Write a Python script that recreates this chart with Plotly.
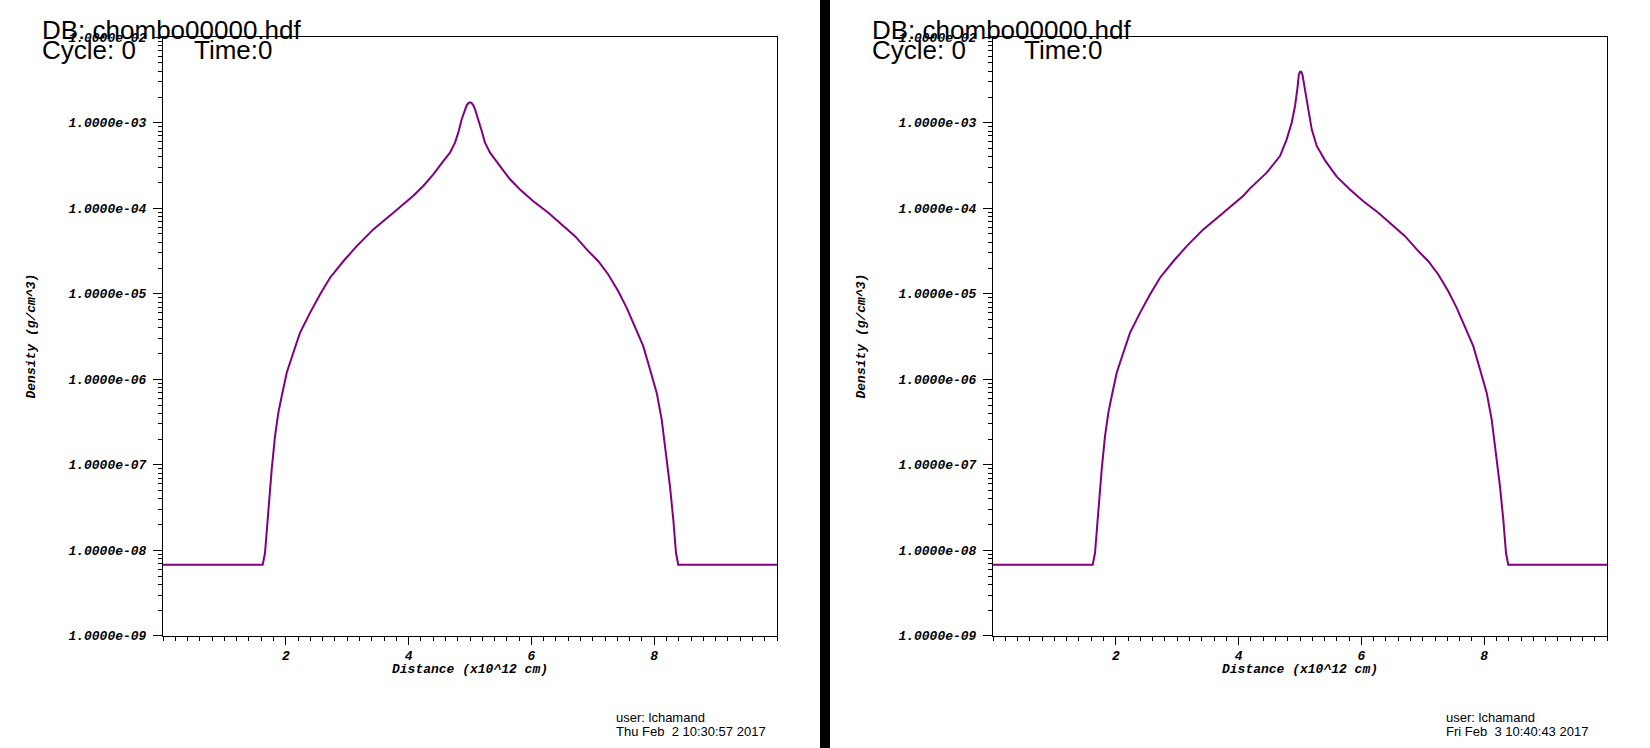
import plotly.graph_objects as go

# ---------------- data ----------------
distance_left = [0.0, 1.624, 1.661, 1.689, 1.731, 1.770, 1.824, 1.878, 1.933, 2.015,
                 2.122, 2.231, 2.394, 2.557, 2.720, 2.937, 3.155, 3.425, 3.751, 4.077,
                 4.239, 4.402, 4.565, 4.674, 4.756, 4.809, 4.865, 4.919, 4.946, 4.973,
                 5.000, 5.027, 5.054, 5.081, 5.135, 5.191, 5.244, 5.326, 5.489, 5.651,
                 5.814, 6.031, 6.275, 6.493, 6.710, 6.901, 7.090, 7.252, 7.415, 7.552,
                 7.687, 7.822, 7.932, 8.041, 8.122, 8.192, 8.257, 8.311, 8.355, 8.392, 10.0]
density_left = [6.78e-9, 6.78e-9, 9.29e-9, 1.74e-8, 4.28e-8, 8.77e-8, 2.15e-7, 4.05e-7, 6.32e-7, 1.19e-6,
                2.04e-6, 3.49e-6, 5.98e-6, 9.82e-6, 1.54e-5, 2.40e-5, 3.61e-5, 5.66e-5, 8.87e-5, 1.40e-4,
                1.82e-4, 2.49e-4, 3.56e-4, 4.47e-4, 5.85e-4, 7.66e-4, 1.10e-3, 1.44e-3, 1.60e-3, 1.70e-3,
                1.73e-3, 1.70e-3, 1.60e-3, 1.44e-3, 1.10e-3, 8.00e-4, 5.85e-4, 4.47e-4, 3.11e-4, 2.18e-4,
                1.66e-4, 1.21e-4, 8.87e-5, 6.47e-5, 4.72e-5, 3.30e-5, 2.40e-5, 1.68e-5, 1.07e-5, 6.85e-6,
                4.18e-6, 2.44e-6, 1.30e-6, 6.93e-7, 3.37e-7, 1.38e-7, 5.60e-8, 2.28e-8, 9.29e-9, 6.78e-9, 6.78e-9]

distance_right = [0.0, 1.624, 1.661, 1.689, 1.731, 1.770, 1.824, 1.878, 1.933, 2.015,
                  2.122, 2.231, 2.394, 2.557, 2.720, 2.937, 3.155, 3.425, 3.751, 4.077,
                  4.186, 4.458, 4.674, 4.783, 4.865, 4.919, 4.963, 4.980, 5.000, 5.020,
                  5.040, 5.081, 5.135, 5.191, 5.272, 5.407, 5.598, 5.814, 6.031,
                  6.275, 6.493, 6.710, 6.901, 7.090, 7.252, 7.415, 7.552, 7.687, 7.822,
                  7.932, 8.041, 8.122, 8.192, 8.257, 8.311, 8.355, 8.392, 10.0]
density_right = [6.78e-9, 6.78e-9, 9.29e-9, 1.74e-8, 4.28e-8, 8.77e-8, 2.15e-7, 4.05e-7, 6.32e-7, 1.19e-6,
                 2.04e-6, 3.49e-6, 5.98e-6, 9.82e-6, 1.54e-5, 2.40e-5, 3.61e-5, 5.66e-5, 8.87e-5, 1.40e-4,
                 1.71e-4, 2.61e-4, 4.08e-4, 6.40e-4, 1.00e-3, 1.57e-3, 2.69e-3, 3.63e-3, 3.94e-3, 3.94e-3,
                 3.63e-3, 2.46e-3, 1.32e-3, 8.37e-4, 5.35e-4, 3.63e-4, 2.34e-4, 1.66e-4, 1.21e-4,
                 8.87e-5, 6.47e-5, 4.72e-5, 3.30e-5, 2.40e-5, 1.68e-5, 1.07e-5, 6.85e-6, 4.18e-6, 2.44e-6,
                 1.30e-6, 6.93e-7, 3.37e-7, 1.38e-7, 5.60e-8, 2.28e-8, 9.29e-9, 6.78e-9, 6.78e-9]

x_tick_vals = [2, 4, 6, 8]
x_tick_text = ["2", "4", "6", "8"]
y_tick_vals = [1e-9, 1e-8, 1e-7, 1e-6, 1e-5, 1e-4, 1e-3, 1e-2]
y_tick_text = ["1.0000e-09", "1.0000e-08", "1.0000e-07", "1.0000e-06",
               "1.0000e-05", "1.0000e-04", "1.0000e-03", "1.0000e-02"]

db_name = "DB: chombo00000.hdf"
cycle_text = "Cycle: 0"
time_text = "Time:0"
x_title = "Distance (x10^12 cm)"
y_title = "Density (g/cm^3)"
user_text = "user: lchamand"
dates = ["Thu Feb \u00a02 10:30:57 2017", "Fri Feb \u00a03 10:40:43 2017"]

# ---------------- figure ----------------
W, H = 1650, 748
LINE_COLOR = "#800080"
# observed vertical mapping of the capture (offset / scale) compensated here
Y_OFF, Y_SCALE = 6.8, 0.979


def px_x(v):
    return v / W


def px_y(v):
    return 1 - ((v - Y_OFF) / Y_SCALE) / H


fig = go.Figure()
fig.add_trace(go.Scatter(x=distance_left, y=density_left, mode="lines",
                         line=dict(color=LINE_COLOR, width=2),
                         xaxis="x", yaxis="y", showlegend=False, hoverinfo="skip"))
fig.add_trace(go.Scatter(x=distance_right, y=density_right, mode="lines",
                         line=dict(color=LINE_COLOR, width=2),
                         xaxis="x2", yaxis="y2", showlegend=False, hoverinfo="skip"))

tick_font = dict(family="Liberation Mono, Courier New, monospace", size=13,
                 color="black", weight="bold", style="italic")
label_font = dict(family="Liberation Sans, Arial, sans-serif", size=26, color="black")
small_font = dict(family="Liberation Sans, Arial, sans-serif", size=13, color="black")

plot_top, plot_bottom = 38, 636
panels = [(163, 777), (993, 1607)]


def xaxis_cfg(domain, anchor):
    return dict(domain=domain, anchor=anchor, range=[0, 10], tickmode="array",
                tickvals=x_tick_vals, ticktext=x_tick_text,
                ticks="outside", ticklen=8, tickwidth=1, tickcolor="black",
                showline=True, linecolor="black", linewidth=1, mirror=True,
                showgrid=False, zeroline=False, tickfont=tick_font,
                minor=dict(tick0=0, dtick=0.2, ticks="outside", ticklen=4,
                           tickwidth=1, tickcolor="black", showgrid=False),
                fixedrange=True)


def yaxis_cfg(domain, anchor):
    return dict(domain=domain, anchor=anchor, type="log", range=[-9, -2],
                tickmode="array", tickvals=y_tick_vals, ticktext=y_tick_text,
                ticks="outside", ticklen=9, tickwidth=1, tickcolor="black",
                showline=True, linecolor="black", linewidth=1, mirror=True,
                showgrid=False, zeroline=False, tickfont=tick_font,
                ticklabelstandoff=4,
                minor=dict(dtick="D1", ticks="outside", ticklen=4,
                           tickwidth=1, tickcolor="black", showgrid=False),
                fixedrange=True)


ydom = [px_y(plot_bottom), px_y(plot_top)]
fig.update_layout(
    width=W, height=H, autosize=False,
    margin=dict(l=0, r=0, t=0, b=0),
    paper_bgcolor="white", plot_bgcolor="white",
    showlegend=False,
    xaxis=xaxis_cfg([px_x(panels[0][0]), px_x(panels[0][1])], "y"),
    yaxis=yaxis_cfg(ydom, "x"),
    xaxis2=xaxis_cfg([px_x(panels[1][0]), px_x(panels[1][1])], "y2"),
    yaxis2=yaxis_cfg(ydom, "x2"),
)

annotations = []
for i, (left, right) in enumerate(panels):
    off = left - panels[0][0]
    common = dict(xref="paper", yref="paper", showarrow=False)
    annotations.append(dict(text=db_name, x=px_x(40 + off), y=px_y(30.5),
                            xanchor="left", yanchor="middle", font=label_font, **common))
    annotations.append(dict(text=cycle_text, x=px_x(40 + off), y=px_y(50.5),
                            xanchor="left", yanchor="middle", font=label_font, **common))
    annotations.append(dict(text=time_text, x=px_x(192 + off), y=px_y(50.5),
                            xanchor="left", yanchor="middle", font=label_font, **common))
    annotations.append(dict(text=x_title, x=px_x((left + right) / 2), y=px_y(670),
                            xanchor="center", yanchor="middle", font=tick_font, **common))
    annotations.append(dict(text=y_title, x=px_x(32 + off), y=px_y((plot_top + plot_bottom) / 2),
                            xanchor="center", yanchor="middle", textangle=-90,
                            font=tick_font, **common))
    annotations.append(dict(text=user_text, x=px_x(614 + off), y=px_y(718),
                            xanchor="left", yanchor="middle", font=small_font, **common))
    annotations.append(dict(text=dates[i], x=px_x(614 + off), y=px_y(731.5),
                            xanchor="left", yanchor="middle", font=small_font, **common))
fig.update_layout(annotations=annotations)

# black separator bar between the two panels (full height of the picture)
fig.add_shape(type="rect", xref="paper", yref="paper",
              x0=px_x(820), x1=px_x(830), y0=-0.05, y1=1.05,
              fillcolor="black", line=dict(width=0), layer="above")

fig.write_html("out.html", config={"displayModeBar": False},
               post_script="document.body.style.margin='0';document.body.style.overflow='hidden';")
